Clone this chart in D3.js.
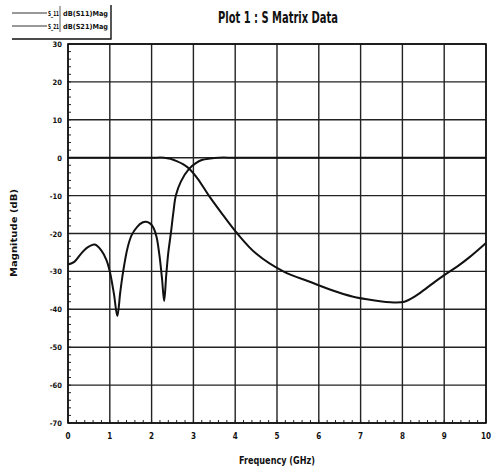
<!DOCTYPE html>
<html>
<head>
<meta charset="utf-8">
<script src="https://cdn.jsdelivr.net/npm/d3@7"></script>
<style>
  body { margin: 0; background: #fff; }
  text { font-family: "DejaVu Sans Condensed", "Liberation Sans", sans-serif; font-weight: bold; fill: #111; }
</style>
</head>
<body>
<div id="chart"></div>
<script>
// S11 (reflection), GHz / dB
const s11Freq = [0, 0.15, 0.3, 0.45, 0.64, 0.8, 0.92, 1.0, 1.1, 1.18, 1.25, 1.32, 1.42, 1.52, 1.65, 1.78, 1.87, 1.97, 2.05, 2.12, 2.19, 2.25, 2.3, 2.35, 2.4, 2.46, 2.52, 2.58, 2.7, 2.9, 3.05, 3.2, 3.4, 3.6, 4, 5, 6, 7, 8, 9, 10];
const s11Db = [-28.2, -27.5, -25.5, -23.8, -22.9, -24.5, -27, -30, -36, -41.8, -35.5, -30, -24, -20.5, -18.3, -17.1, -16.9, -17.4, -18.6, -21, -26, -32, -37.8, -31, -25, -20, -14.5, -10, -6.3, -2.9, -1.5, -0.6, -0.2, 0, 0, 0, 0, 0, 0, 0, 0];
// S21 (transmission)
const s21Freq = [0, 0.5, 1, 1.5, 2, 2.3, 2.45, 2.6, 2.75, 2.9, 3.1, 3.37, 3.7, 4.05, 4.5, 5.15, 5.8, 6.3, 6.8, 7.3, 7.8, 8.05, 8.3, 8.6, 9.0, 9.3, 9.6, 10];
const s21Db = [0, 0, 0, 0, 0, 0, -0.3, -0.9, -1.7, -2.9, -5.5, -10, -15, -20, -25.3, -30, -32.8, -34.9, -36.6, -37.6, -38.2, -38, -36.6, -34.2, -31, -28.8, -26.3, -22.5];

const xTicks = [0, 1, 2, 3, 4, 5, 6, 7, 8, 9, 10];
const yTicks = [30, 20, 10, 0, -10, -20, -30, -40, -50, -60, -70];
const legendNames = ["S_11", "S_21"];
const legendDesc = ["dB(S11)Mag", "dB(S21)Mag"];

const width = 493, height = 470;
const margin = {top: 44, right: 7, bottom: 47, left: 68};

const svg = d3.select("#chart").append("svg")
    .attr("width", width)
    .attr("height", height);

const x = d3.scaleLinear().domain([0, 10]).range([margin.left, width - margin.right]);
const y = d3.scaleLinear().domain([-70, 30]).range([height - margin.bottom, margin.top]);

// grid
svg.append("g")
    .selectAll("line")
    .data(xTicks)
    .join("line")
    .attr("x1", d => x(d)).attr("x2", d => x(d))
    .attr("y1", y(30)).attr("y2", y(-70))
    .attr("stroke", "#222").attr("stroke-width", 1.4);
svg.append("g")
    .selectAll("line")
    .data(yTicks)
    .join("line")
    .attr("x1", x(0)).attr("x2", x(10))
    .attr("y1", d => y(d)).attr("y2", d => y(d))
    .attr("stroke", "#222").attr("stroke-width", 1.4);

// minor ticks
svg.append("g")
    .selectAll("line")
    .data(d3.range(-70, 30.1, 2))
    .join("line")
    .attr("x1", x(0)).attr("x2", x(0) + 3)
    .attr("y1", d => y(d)).attr("y2", d => y(d))
    .attr("stroke", "#222");
svg.append("g")
    .selectAll("line")
    .data(d3.range(0, 10.01, 0.2))
    .join("line")
    .attr("x1", d => x(d)).attr("x2", d => x(d))
    .attr("y1", y(-70)).attr("y2", y(-70) - 3)
    .attr("stroke", "#222");

// frame
svg.append("rect")
    .attr("x", x(0)).attr("y", y(30))
    .attr("width", x(10) - x(0)).attr("height", y(-70) - y(30))
    .attr("fill", "none").attr("stroke", "#111").attr("stroke-width", 1.6);

// tick labels
svg.append("g")
    .selectAll("text")
    .data(yTicks)
    .join("text")
    .attr("x", x(0) - 6).attr("y", d => y(d) + 3)
    .attr("text-anchor", "end")
    .attr("font-size", 7.5)
    .text(d => d);
svg.append("g")
    .selectAll("text")
    .data(xTicks)
    .join("text")
    .attr("x", d => x(d)).attr("y", y(-70) + 16)
    .attr("text-anchor", "middle")
    .attr("font-size", 8)
    .text(d => d);

// curves
const line = d3.line().x(d => x(d[0])).y(d => y(d[1])).curve(d3.curveCatmullRom.alpha(0.5));
svg.append("path")
    .datum(d3.zip(s11Freq, s11Db))
    .attr("d", line)
    .attr("fill", "none").attr("stroke", "#111").attr("stroke-width", 2);
svg.append("path")
    .datum(d3.zip(s21Freq, s21Db))
    .attr("d", line)
    .attr("fill", "none").attr("stroke", "#111").attr("stroke-width", 2);

// title and axis labels
svg.append("text")
    .attr("x", 278).attr("y", 23)
    .attr("text-anchor", "middle")
    .attr("font-size", 15)
    .attr("textLength", 120).attr("lengthAdjust", "spacingAndGlyphs")
    .text("Plot 1 : S Matrix Data");
svg.append("text")
    .attr("x", 277).attr("y", 464)
    .attr("text-anchor", "middle")
    .attr("font-size", 10)
    .attr("textLength", 76).attr("lengthAdjust", "spacingAndGlyphs")
    .text("Frequency (GHz)");
svg.append("text")
    .attr("transform", `translate(17,233) rotate(-90)`)
    .attr("text-anchor", "middle")
    .attr("font-size", 9)
    .attr("textLength", 88).attr("lengthAdjust", "spacingAndGlyphs")
    .text("Magnitude (dB)");

// legend
const lg = svg.append("g");
lg.append("path")
    .attr("d", "M12,39 H111 V5")
    .attr("fill", "none").attr("stroke", "#111").attr("stroke-width", 1.4);
lg.append("line")
    .attr("x1", 60).attr("x2", 60).attr("y1", 6).attr("y2", 32)
    .attr("stroke", "#333").attr("stroke-width", 0.8);
lg.selectAll(".ll")
    .data(legendNames)
    .join("line")
    .attr("x1", 12).attr("x2", 47)
    .attr("y1", (d, i) => 13 + i * 13).attr("y2", (d, i) => 13 + i * 13)
    .attr("stroke", "#333").attr("stroke-width", 1);
lg.selectAll(".ln")
    .data(legendNames)
    .join("text")
    .attr("x", 48).attr("y", (d, i) => 16 + i * 13)
    .attr("font-size", 7)
    .attr("textLength", 11).attr("lengthAdjust", "spacingAndGlyphs")
    .text(d => d);
lg.selectAll(".ld")
    .data(legendDesc)
    .join("text")
    .attr("x", 63).attr("y", (d, i) => 16 + i * 13)
    .attr("font-size", 7)
    .attr("textLength", 45).attr("lengthAdjust", "spacingAndGlyphs")
    .text(d => d);
</script>
</body>
</html>
